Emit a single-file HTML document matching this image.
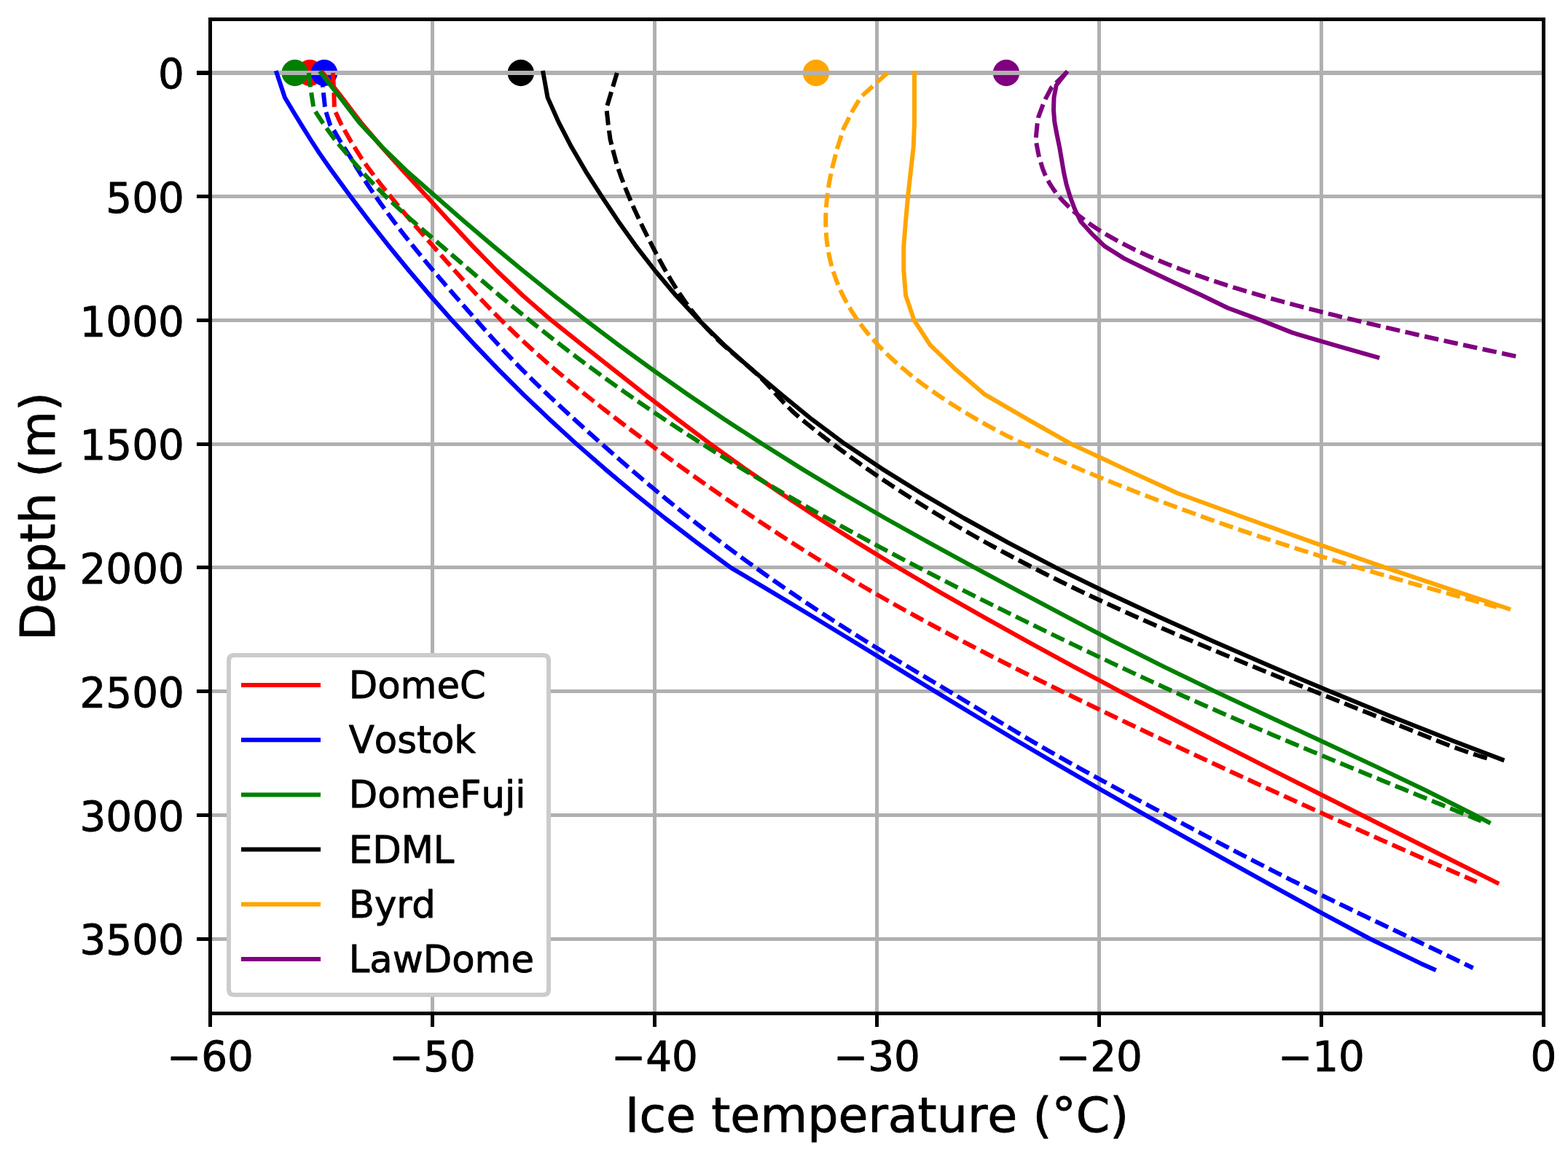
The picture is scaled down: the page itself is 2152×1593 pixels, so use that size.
<!DOCTYPE html>
<html lang="en"><head><meta charset="utf-8"><title>Ice temperature profiles</title>
<style>html,body{margin:0;padding:0;background:#fff}svg{display:block}text{fill:#000;font-kerning:none;stroke:#000;stroke-width:0.9px;stroke-linejoin:round}</style></head><body>
<svg width="2152" height="1593" viewBox="0 0 2152 1593" font-family="DejaVu Sans, Liberation Sans, sans-serif">
<rect width="2152" height="1593" fill="#fff"/>
<g>
<circle cx="425.2" cy="100" r="18.2" fill="#ff0000"/>
<circle cx="445.0" cy="100" r="18.2" fill="#0000ff"/>
<circle cx="404.7" cy="100" r="18.2" fill="#008000"/>
<circle cx="714.8" cy="100" r="18.2" fill="#000000"/>
<circle cx="1120.0" cy="100" r="18.2" fill="#ffa500"/>
<circle cx="1381.0" cy="100" r="18.2" fill="#800080"/>
</g>
<g stroke="#b0b0b0" stroke-width="5" fill="none">
<path d="M288.5,26.5 V1390.5"/>
<path d="M593.5,26.5 V1390.5"/>
<path d="M898.5,26.5 V1390.5"/>
<path d="M1203.5,26.5 V1390.5"/>
<path d="M1508.5,26.5 V1390.5"/>
<path d="M1813.5,26.5 V1390.5"/>
<path d="M2118.5,26.5 V1390.5"/>
<path d="M288.5,100.0 H2118.5" stroke-width="6"/>
<path d="M288.5,269.5 H2118.5" stroke-width="5"/>
<path d="M288.5,439.5 H2118.5" stroke-width="5"/>
<path d="M288.5,609.5 H2118.5" stroke-width="5"/>
<path d="M288.5,778.5 H2118.5" stroke-width="5"/>
<path d="M288.5,948.5 H2118.5" stroke-width="5"/>
<path d="M288.5,1118.5 H2118.5" stroke-width="5"/>
<path d="M288.5,1288.5 H2118.5" stroke-width="5"/>
</g>
<g fill="none" stroke-width="6.0" stroke-linejoin="round">
<path d="M443.0,100.0 L469.4,133.9 L495.2,167.9 L524.0,201.8 L554.5,235.8 L585.9,269.7 L617.0,303.7 L648.6,337.6 L681.8,371.5 L717.5,405.5 L756.7,439.4 L799.3,473.4 L842.4,507.3 L885.6,541.3 L929.6,575.2 L975.0,609.1 L1022.4,643.1 L1071.9,677.0 L1123.5,711.0 L1177.2,744.9 L1232.9,778.9 L1290.6,812.8 L1350.0,846.7 L1411.0,880.7 L1473.4,914.6 L1537.1,948.6 L1601.9,982.5 L1667.7,1016.5 L1734.1,1050.4 L1801.2,1084.3 L1868.7,1118.3 L1936.5,1152.2 L2004.4,1186.2 L2054.6,1211.3" stroke="#ff0000" stroke-linecap="square"/>
<path d="M457.0,100.0 L458.3,126.9 L458.9,146.7 L459.2,151.0 L468.3,170.5 L482.0,194.8 L496.3,217.5 L498.4,220.5 L500.5,223.5 L502.6,226.5 L504.8,229.5 L507.0,232.5 L509.2,235.5 L511.5,238.5 L513.7,241.5 L516.0,244.5 L518.3,247.5 L520.7,250.5 L523.0,253.5 L525.4,256.5 L527.8,259.5 L530.2,262.5 L532.6,265.5 L535.1,268.5 L537.5,271.5 L540.0,274.5 L542.5,277.5 L545.0,280.5 L547.5,283.5 L550.0,286.5 L552.6,289.5 L555.1,292.5 L557.7,295.5 L560.3,298.5 L562.8,301.5 L565.4,304.5 L568.0,307.5 L570.6,310.5 L573.2,313.5 L575.9,316.5 L578.5,319.5 L581.1,322.5 L583.7,325.5 L586.4,328.5 L589.0,331.5 L591.6,334.5 L594.3,337.5 L596.9,340.5 L599.5,343.5 L602.2,346.5 L604.8,349.5 L607.4,352.5 L610.1,355.5 L612.7,358.5 L615.4,361.5 L618.1,364.5 L620.7,367.5 L623.4,370.5 L626.1,373.5 L628.8,376.5 L631.5,379.5 L634.2,382.5 L636.9,385.5 L639.6,388.5 L642.4,391.5 L645.1,394.5 L647.9,397.5 L650.7,400.5 L653.5,403.5 L656.3,406.5 L659.1,409.5 L661.9,412.5 L664.8,415.5 L667.6,418.5 L670.5,421.5 L673.4,424.5 L676.4,427.5 L679.3,430.5 L682.3,433.5 L685.2,436.5 L688.2,439.5 L691.3,442.5 L694.3,445.5 L697.4,448.5 L700.5,451.5 L703.6,454.5 L706.7,457.5 L709.8,460.5 L713.0,463.5 L716.2,466.5 L719.5,469.5 L722.7,472.5 L726.0,475.5 L729.3,478.5 L732.6,481.5 L735.9,484.5 L739.3,487.5 L742.7,490.5 L746.1,493.5 L749.5,496.5 L753.0,499.5 L756.5,502.5 L760.0,505.5 L763.5,508.5 L767.0,511.5 L770.6,514.5 L774.2,517.5 L777.8,520.5 L781.4,523.5 L785.0,526.5 L788.7,529.5 L792.4,532.5 L796.1,535.5 L799.8,538.5 L803.5,541.5 L807.3,544.5 L811.0,547.5 L814.8,550.5 L818.6,553.5 L822.4,556.5 L826.2,559.5 L830.1,562.5 L833.9,565.5 L837.8,568.5 L841.7,571.5 L845.6,574.5 L849.5,577.5 L853.4,580.5 L857.4,583.5 L861.3,586.5 L865.3,589.5 L869.3,592.5 L873.3,595.5 L877.3,598.5 L881.3,601.5 L885.3,604.5 L889.3,607.5 L893.4,610.5 L897.4,613.5 L901.5,616.5 L905.6,619.5 L909.7,622.5 L913.8,625.5 L917.9,628.5 L922.0,631.5 L926.1,634.5 L930.3,637.5 L934.4,640.5 L938.6,643.5 L942.8,646.5 L946.9,649.5 L951.1,652.5 L955.4,655.5 L959.6,658.5 L963.8,661.5 L968.1,664.5 L972.3,667.5 L976.6,670.5 L980.9,673.5 L985.2,676.5 L989.5,679.5 L993.8,682.5 L998.2,685.5 L1002.5,688.5 L1006.9,691.5 L1011.3,694.5 L1015.7,697.5 L1020.1,700.5 L1024.6,703.5 L1029.0,706.5 L1033.5,709.5 L1038.0,712.5 L1042.4,715.5 L1047.0,718.5 L1051.5,721.5 L1056.0,724.5 L1060.6,727.5 L1065.2,730.5 L1069.7,733.5 L1074.4,736.5 L1079.0,739.5 L1083.6,742.5 L1088.3,745.5 L1093.0,748.5 L1097.7,751.5 L1102.4,754.5 L1107.1,757.5 L1111.9,760.5 L1116.7,763.5 L1121.5,766.5 L1126.3,769.5 L1131.1,772.5 L1136.0,775.5 L1140.9,778.5 L1145.8,781.5 L1150.8,784.5 L1155.7,787.5 L1160.7,790.5 L1165.7,793.5 L1170.8,796.5 L1175.8,799.5 L1180.9,802.5 L1186.0,805.5 L1191.2,808.5 L1196.3,811.5 L1201.5,814.5 L1206.8,817.5 L1212.0,820.5 L1217.3,823.5 L1222.6,826.5 L1227.9,829.5 L1233.3,832.5 L1238.7,835.5 L1244.1,838.5 L1249.5,841.5 L1255.0,844.5 L1260.5,847.5 L1266.0,850.5 L1271.5,853.5 L1277.1,856.5 L1282.7,859.5 L1288.3,862.5 L1293.9,865.5 L1299.6,868.5 L1305.2,871.5 L1310.9,874.5 L1316.7,877.5 L1322.4,880.5 L1328.1,883.5 L1333.9,886.5 L1339.7,889.5 L1345.5,892.5 L1351.4,895.5 L1357.2,898.5 L1363.1,901.5 L1369.0,904.5 L1374.9,907.5 L1380.8,910.5 L1386.8,913.5 L1392.7,916.5 L1398.7,919.5 L1404.7,922.5 L1410.7,925.5 L1416.7,928.5 L1422.7,931.5 L1428.8,934.5 L1434.9,937.5 L1440.9,940.5 L1447.0,943.5 L1453.1,946.5 L1459.2,949.5 L1465.4,952.5 L1471.5,955.5 L1477.7,958.5 L1483.8,961.5 L1490.0,964.5 L1496.2,967.5 L1502.4,970.5 L1508.6,973.5 L1514.8,976.5 L1521.0,979.5 L1527.3,982.5 L1533.5,985.5 L1539.8,988.5 L1546.1,991.5 L1552.4,994.5 L1558.7,997.5 L1565.0,1000.5 L1571.3,1003.5 L1577.6,1006.5 L1583.9,1009.5 L1590.3,1012.5 L1596.6,1015.5 L1603.0,1018.5 L1609.4,1021.5 L1615.8,1024.5 L1622.2,1027.5 L1628.6,1030.5 L1635.0,1033.5 L1641.4,1036.5 L1647.9,1039.5 L1654.3,1042.5 L1660.8,1045.5 L1667.2,1048.5 L1673.7,1051.5 L1680.2,1054.5 L1686.6,1057.5 L1693.1,1060.5 L1699.6,1063.5 L1706.2,1066.5 L1712.7,1069.5 L1719.2,1072.5 L1725.7,1075.5 L1732.3,1078.5 L1738.8,1081.5 L1745.4,1084.5 L1752.0,1087.5 L1758.5,1090.5 L1765.1,1093.5 L1771.7,1096.5 L1778.3,1099.5 L1784.9,1102.5 L1791.5,1105.5 L1798.1,1108.5 L1804.7,1111.5 L1811.4,1114.5 L1818.0,1117.5 L1824.6,1120.5 L1831.3,1123.5 L1837.9,1126.5 L1844.6,1129.5 L1851.3,1132.5 L1858.0,1135.5 L1864.6,1138.5 L1871.3,1141.5 L1878.0,1144.5 L1884.7,1147.5 L1891.5,1150.5 L1898.2,1153.5 L1904.9,1156.5 L1911.7,1159.5 L1918.4,1162.5 L1925.2,1165.5 L1931.9,1168.5 L1938.7,1171.5 L1945.5,1174.5 L1952.3,1177.5 L1959.1,1180.5 L1965.9,1183.5 L1972.8,1186.5 L1979.6,1189.5 L1986.5,1192.5 L1993.3,1195.5 L2000.2,1198.5 L2007.1,1201.5 L2014.0,1204.5 L2020.9,1207.5 L2026.7,1210.0" stroke="#ff0000" stroke-dasharray="19.6 7.56"/>
<path d="M379.7,100.0 L391.0,134.0 L403.2,154.3 L414.6,172.9 L426.2,191.5 L438.3,210.1 L450.6,227.8 L456.3,235.8 L481.2,269.7 L507.0,303.7 L533.7,337.6 L561.4,371.5 L590.3,405.5 L620.4,439.4 L651.7,473.4 L684.3,507.3 L718.4,541.3 L754.0,575.2 L791.1,609.1 L829.9,643.1 L870.4,677.0 L912.7,711.0 L956.9,744.9 L1003.0,778.9 L1060.3,812.8 L1116.6,846.7 L1172.4,880.7 L1227.8,914.6 L1283.3,948.6 L1339.3,982.5 L1395.9,1016.5 L1453.6,1050.4 L1512.4,1084.3 L1572.1,1118.3 L1632.4,1152.2 L1693.3,1186.2 L1754.7,1220.1 L1816.5,1254.1 L1879.9,1288.0 L1949.9,1321.9 L1968.1,1330.0" stroke="#0000ff" stroke-linecap="square"/>
<path d="M442.0,100.0 L443.0,119.4 L446.0,146.5 L447.3,153.2 L452.9,171.0 L459.5,181.0 L466.5,193.0 L473.0,203.5 L479.7,213.8 L481.5,216.8 L483.3,219.8 L485.1,222.8 L486.9,225.8 L488.7,228.8 L490.6,231.8 L492.5,234.8 L494.4,237.8 L496.3,240.8 L498.2,243.8 L500.2,246.8 L502.2,249.8 L504.2,252.8 L506.2,255.8 L508.2,258.8 L510.2,261.8 L512.3,264.8 L514.4,267.8 L516.5,270.8 L518.6,273.8 L520.7,276.8 L522.8,279.8 L525.0,282.8 L527.2,285.8 L529.4,288.8 L531.6,291.8 L533.8,294.8 L536.0,297.8 L538.3,300.8 L540.5,303.8 L542.8,306.8 L545.1,309.8 L547.4,312.8 L549.7,315.8 L552.0,318.8 L554.4,321.8 L556.7,324.8 L559.1,327.8 L561.5,330.8 L563.9,333.8 L566.3,336.8 L568.7,339.8 L571.1,342.8 L573.6,345.8 L576.0,348.8 L578.5,351.8 L580.9,354.8 L583.4,357.8 L585.9,360.8 L588.4,363.8 L590.9,366.8 L593.4,369.8 L596.0,372.8 L598.5,375.8 L601.1,378.8 L603.6,381.8 L606.2,384.8 L608.8,387.8 L611.3,390.8 L613.9,393.8 L616.5,396.8 L619.1,399.8 L621.7,402.8 L624.3,405.8 L626.9,408.8 L629.6,411.8 L632.2,414.8 L634.8,417.8 L637.5,420.8 L640.1,423.8 L642.7,426.8 L645.4,429.8 L648.0,432.8 L650.7,435.8 L653.3,438.8 L656.0,441.8 L658.6,444.8 L661.3,447.8 L663.9,450.8 L666.6,453.8 L669.3,456.8 L672.0,459.8 L674.7,462.8 L677.4,465.8 L680.1,468.8 L682.9,471.8 L685.6,474.8 L688.4,477.8 L691.2,480.8 L694.1,483.8 L696.9,486.8 L699.8,489.8 L702.6,492.8 L705.5,495.8 L708.5,498.8 L711.4,501.8 L714.3,504.8 L717.3,507.8 L720.3,510.8 L723.3,513.8 L726.3,516.8 L729.4,519.8 L732.4,522.8 L735.5,525.8 L738.6,528.8 L741.7,531.8 L744.8,534.8 L747.9,537.8 L751.1,540.8 L754.2,543.8 L757.4,546.8 L760.6,549.8 L763.8,552.8 L767.0,555.8 L770.2,558.8 L773.4,561.8 L776.7,564.8 L779.9,567.8 L783.2,570.8 L786.5,573.8 L789.8,576.8 L793.1,579.8 L796.4,582.8 L799.7,585.8 L803.0,588.8 L806.4,591.8 L809.7,594.8 L813.1,597.8 L816.4,600.8 L819.8,603.8 L823.2,606.8 L826.6,609.8 L830.0,612.8 L833.4,615.8 L836.8,618.8 L840.2,621.8 L843.6,624.8 L847.0,627.8 L850.5,630.8 L853.9,633.8 L857.4,636.8 L860.9,639.8 L864.4,642.8 L867.8,645.8 L871.4,648.8 L874.9,651.8 L878.4,654.8 L881.9,657.8 L885.5,660.8 L889.0,663.8 L892.6,666.8 L896.2,669.8 L899.8,672.8 L903.4,675.8 L907.1,678.8 L910.7,681.8 L914.4,684.8 L918.1,687.8 L921.7,690.8 L925.4,693.8 L929.2,696.8 L932.9,699.8 L936.6,702.8 L940.4,705.8 L944.2,708.8 L948.0,711.8 L951.8,714.8 L955.6,717.8 L959.4,720.8 L963.3,723.8 L967.2,726.8 L971.1,729.8 L975.0,732.8 L978.9,735.8 L982.8,738.8 L986.8,741.8 L990.7,744.8 L994.7,747.8 L998.7,750.8 L1002.8,753.8 L1006.8,756.8 L1010.8,759.8 L1014.9,762.8 L1019.0,765.8 L1023.1,768.8 L1027.2,771.8 L1031.4,774.8 L1035.5,777.8 L1039.7,780.8 L1043.9,783.8 L1048.1,786.8 L1052.4,789.8 L1056.6,792.8 L1060.9,795.8 L1065.2,798.8 L1069.5,801.8 L1073.8,804.8 L1078.2,807.8 L1082.5,810.8 L1086.9,813.8 L1091.3,816.8 L1095.7,819.8 L1100.2,822.8 L1104.6,825.8 L1109.1,828.8 L1113.6,831.8 L1118.1,834.8 L1122.7,837.8 L1127.2,840.8 L1131.8,843.8 L1136.4,846.8 L1141.0,849.8 L1145.7,852.8 L1150.3,855.8 L1155.0,858.8 L1159.7,861.8 L1164.4,864.8 L1169.2,867.8 L1173.9,870.8 L1178.7,873.8 L1183.5,876.8 L1188.3,879.8 L1193.2,882.8 L1198.0,885.8 L1202.9,888.8 L1207.8,891.8 L1212.8,894.8 L1217.7,897.8 L1222.7,900.8 L1227.7,903.8 L1232.6,906.8 L1237.7,909.8 L1242.7,912.8 L1247.7,915.8 L1252.7,918.8 L1257.7,921.8 L1262.8,924.8 L1267.8,927.8 L1272.9,930.8 L1277.9,933.8 L1282.9,936.8 L1288.0,939.8 L1293.0,942.8 L1298.0,945.8 L1303.0,948.8 L1308.0,951.8 L1313.0,954.8 L1317.9,957.8 L1322.9,960.8 L1327.9,963.8 L1332.8,966.8 L1337.8,969.8 L1342.7,972.8 L1347.7,975.8 L1352.6,978.8 L1357.6,981.8 L1362.6,984.8 L1367.5,987.8 L1372.5,990.8 L1377.5,993.8 L1382.5,996.8 L1387.5,999.8 L1392.5,1002.8 L1397.6,1005.8 L1402.6,1008.8 L1407.7,1011.8 L1412.8,1014.8 L1417.9,1017.8 L1423.1,1020.8 L1428.2,1023.8 L1433.4,1026.8 L1438.6,1029.8 L1443.9,1032.8 L1449.2,1035.8 L1454.5,1038.8 L1459.8,1041.8 L1465.1,1044.8 L1470.5,1047.8 L1475.9,1050.8 L1481.3,1053.8 L1486.7,1056.8 L1492.2,1059.8 L1497.7,1062.8 L1503.2,1065.8 L1508.7,1068.8 L1514.2,1071.8 L1519.7,1074.8 L1525.3,1077.8 L1530.8,1080.8 L1536.4,1083.8 L1542.0,1086.8 L1547.6,1089.8 L1553.2,1092.8 L1558.8,1095.8 L1564.4,1098.8 L1570.1,1101.8 L1575.7,1104.8 L1581.3,1107.8 L1587.0,1110.8 L1592.6,1113.8 L1598.3,1116.8 L1603.9,1119.8 L1609.6,1122.8 L1615.2,1125.8 L1620.9,1128.8 L1626.5,1131.8 L1632.2,1134.8 L1637.9,1137.8 L1643.5,1140.8 L1649.2,1143.8 L1654.9,1146.8 L1660.6,1149.8 L1666.3,1152.8 L1672.0,1155.8 L1677.7,1158.8 L1683.4,1161.8 L1689.1,1164.8 L1694.9,1167.8 L1700.6,1170.8 L1706.4,1173.8 L1712.2,1176.8 L1718.0,1179.8 L1723.8,1182.8 L1729.6,1185.8 L1735.4,1188.8 L1741.2,1191.8 L1747.1,1194.8 L1753.0,1197.8 L1758.9,1200.8 L1764.8,1203.8 L1770.7,1206.8 L1776.7,1209.8 L1782.7,1212.8 L1788.6,1215.8 L1794.7,1218.8 L1800.7,1221.8 L1806.7,1224.8 L1812.8,1227.8 L1818.9,1230.8 L1825.1,1233.8 L1831.2,1236.8 L1837.4,1239.8 L1843.6,1242.8 L1849.8,1245.8 L1856.0,1248.8 L1862.2,1251.8 L1868.4,1254.8 L1874.7,1257.8 L1881.0,1260.8 L1887.2,1263.8 L1893.5,1266.8 L1899.8,1269.8 L1906.1,1272.8 L1912.4,1275.8 L1918.7,1278.8 L1925.0,1281.8 L1931.3,1284.8 L1937.6,1287.8 L1943.9,1290.8 L1950.2,1293.8 L1956.5,1296.8 L1962.7,1299.8 L1969.0,1302.8 L1975.3,1305.8 L1981.5,1308.8 L1987.7,1311.8 L1994.0,1314.8 L2000.2,1317.8 L2006.4,1320.8 L2012.5,1323.8 L2018.7,1326.8 L2021.7,1328.3" stroke="#0000ff" stroke-dasharray="19.6 7.56"/>
<path d="M440.5,100.0 L466.9,133.9 L492.9,167.9 L524.5,201.8 L559.5,235.8 L598.2,269.7 L637.1,303.7 L677.0,337.6 L718.0,371.5 L760.3,405.5 L803.9,439.4 L848.9,473.4 L895.6,507.3 L943.9,541.3 L994.0,575.2 L1046.1,609.1 L1100.2,643.1 L1156.4,677.0 L1214.9,711.0 L1275.6,744.9 L1337.9,778.9 L1401.2,812.8 L1464.8,846.7 L1529.4,880.7 L1597.0,914.6 L1667.4,948.6 L1739.7,982.5 L1812.9,1016.5 L1885.5,1050.4 L1956.3,1084.3 L2024.0,1118.3 L2043.0,1128.2" stroke="#008000" stroke-linecap="square"/>
<path d="M423.8,100.0 L426.0,119.6 L430.1,145.9 L430.8,150.0 L443.5,169.4 L459.4,191.5 L477.0,212.4 L479.5,215.4 L482.1,218.4 L484.6,221.4 L487.2,224.4 L489.8,227.4 L492.4,230.4 L495.1,233.4 L497.8,236.4 L500.5,239.4 L503.2,242.4 L506.0,245.4 L508.7,248.4 L511.6,251.4 L514.4,254.4 L517.3,257.4 L520.3,260.4 L523.3,263.4 L526.3,266.4 L529.3,269.4 L532.4,272.4 L535.6,275.4 L538.8,278.4 L542.0,281.4 L545.3,284.4 L548.6,287.4 L551.9,290.4 L555.2,293.4 L558.6,296.4 L562.0,299.4 L565.4,302.4 L568.9,305.4 L572.3,308.4 L575.8,311.4 L579.3,314.4 L582.7,317.4 L586.2,320.4 L589.7,323.4 L593.2,326.4 L596.7,329.4 L600.2,332.4 L603.6,335.4 L607.1,338.4 L610.6,341.4 L614.1,344.4 L617.5,347.4 L621.0,350.4 L624.5,353.4 L628.0,356.4 L631.5,359.4 L635.0,362.4 L638.4,365.4 L641.9,368.4 L645.4,371.4 L648.9,374.4 L652.4,377.4 L655.9,380.4 L659.5,383.4 L663.0,386.4 L666.5,389.4 L670.0,392.4 L673.6,395.4 L677.1,398.4 L680.7,401.4 L684.3,404.4 L687.8,407.4 L691.4,410.4 L695.0,413.4 L698.6,416.4 L702.2,419.4 L705.8,422.4 L709.5,425.4 L713.1,428.4 L716.8,431.4 L720.4,434.4 L724.1,437.4 L727.8,440.4 L731.5,443.4 L735.3,446.4 L739.0,449.4 L742.8,452.4 L746.5,455.4 L750.3,458.4 L754.1,461.4 L757.9,464.4 L761.8,467.4 L765.6,470.4 L769.5,473.4 L773.4,476.4 L777.3,479.4 L781.2,482.4 L785.2,485.4 L789.1,488.4 L793.1,491.4 L797.1,494.4 L801.1,497.4 L805.2,500.4 L809.2,503.4 L813.3,506.4 L817.4,509.4 L821.5,512.4 L825.6,515.4 L829.8,518.4 L833.9,521.4 L838.1,524.4 L842.3,527.4 L846.5,530.4 L850.8,533.4 L855.0,536.4 L859.3,539.4 L863.6,542.4 L867.9,545.4 L872.2,548.4 L876.6,551.4 L881.0,554.4 L885.3,557.4 L889.8,560.4 L894.2,563.4 L898.6,566.4 L903.1,569.4 L907.6,572.4 L912.0,575.4 L916.6,578.4 L921.1,581.4 L925.7,584.4 L930.2,587.4 L934.8,590.4 L939.4,593.4 L944.0,596.4 L948.7,599.4 L953.4,602.4 L958.0,605.4 L962.7,608.4 L967.5,611.4 L972.2,614.4 L977.0,617.4 L981.7,620.4 L986.5,623.4 L991.4,626.4 L996.2,629.4 L1001.0,632.4 L1005.9,635.4 L1010.8,638.4 L1015.7,641.4 L1020.6,644.4 L1025.6,647.4 L1030.6,650.4 L1035.5,653.4 L1040.6,656.4 L1045.6,659.4 L1050.6,662.4 L1055.7,665.4 L1060.8,668.4 L1065.9,671.4 L1071.0,674.4 L1076.1,677.4 L1081.3,680.4 L1086.5,683.4 L1091.7,686.4 L1096.9,689.4 L1102.1,692.4 L1107.4,695.4 L1112.6,698.4 L1117.9,701.4 L1123.2,704.4 L1128.6,707.4 L1133.9,710.4 L1139.3,713.4 L1144.7,716.4 L1150.1,719.4 L1155.5,722.4 L1161.0,725.4 L1166.4,728.4 L1171.9,731.4 L1177.4,734.4 L1183.0,737.4 L1188.5,740.4 L1194.1,743.4 L1199.7,746.4 L1205.2,749.4 L1210.9,752.4 L1216.5,755.4 L1222.2,758.4 L1227.8,761.4 L1233.5,764.4 L1239.2,767.4 L1244.9,770.4 L1250.7,773.4 L1256.4,776.4 L1262.2,779.4 L1268.0,782.4 L1273.8,785.4 L1279.6,788.4 L1285.4,791.4 L1291.3,794.4 L1297.1,797.4 L1303.0,800.4 L1308.9,803.4 L1314.8,806.4 L1320.8,809.4 L1326.7,812.4 L1332.6,815.4 L1338.6,818.4 L1344.6,821.4 L1350.6,824.4 L1356.6,827.4 L1362.6,830.4 L1368.6,833.4 L1374.7,836.4 L1380.7,839.4 L1386.8,842.4 L1392.9,845.4 L1399.0,848.4 L1405.1,851.4 L1411.2,854.4 L1417.3,857.4 L1423.5,860.4 L1429.6,863.4 L1435.8,866.4 L1441.9,869.4 L1448.1,872.4 L1454.3,875.4 L1460.5,878.4 L1466.7,881.4 L1472.9,884.4 L1479.2,887.4 L1485.4,890.4 L1491.7,893.4 L1497.9,896.4 L1504.2,899.4 L1510.5,902.4 L1516.9,905.4 L1523.2,908.4 L1529.5,911.4 L1535.9,914.4 L1542.3,917.4 L1548.7,920.4 L1555.1,923.4 L1561.6,926.4 L1568.1,929.4 L1574.6,932.4 L1581.1,935.4 L1587.6,938.4 L1594.2,941.4 L1600.8,944.4 L1607.4,947.4 L1614.0,950.4 L1620.7,953.4 L1627.4,956.4 L1634.1,959.4 L1640.9,962.4 L1647.6,965.4 L1654.4,968.4 L1661.3,971.4 L1668.1,974.4 L1675.0,977.4 L1681.9,980.4 L1688.8,983.4 L1695.7,986.4 L1702.6,989.4 L1709.6,992.4 L1716.6,995.4 L1723.6,998.4 L1730.6,1001.4 L1737.7,1004.4 L1744.7,1007.4 L1751.8,1010.4 L1758.9,1013.4 L1766.0,1016.4 L1773.1,1019.4 L1780.3,1022.4 L1787.4,1025.4 L1794.6,1028.4 L1801.8,1031.4 L1809.0,1034.4 L1816.2,1037.4 L1823.4,1040.4 L1830.6,1043.4 L1837.8,1046.4 L1845.1,1049.4 L1852.3,1052.4 L1859.6,1055.4 L1866.9,1058.4 L1874.1,1061.4 L1881.4,1064.4 L1888.7,1067.4 L1896.0,1070.4 L1903.3,1073.4 L1910.6,1076.4 L1917.9,1079.4 L1925.3,1082.4 L1932.6,1085.4 L1939.9,1088.4 L1947.2,1091.4 L1954.6,1094.4 L1961.9,1097.4 L1969.2,1100.4 L1976.6,1103.4 L1983.9,1106.4 L1991.2,1109.4 L1998.5,1112.4 L2005.9,1115.4 L2013.2,1118.4 L2020.5,1121.4 L2027.8,1124.4 L2032.9,1126.5" stroke="#008000" stroke-dasharray="19.6 7.56"/>
<path d="M745.5,100.0 L751.6,133.9 L766.8,167.9 L784.4,201.8 L804.3,235.8 L825.9,269.7 L848.6,303.7 L872.8,337.6 L899.1,371.5 L927.7,405.5 L959.3,439.4 L994.0,473.4 L1032.2,507.3 L1072.5,541.3 L1114.0,575.2 L1159.5,609.1 L1210.3,643.1 L1264.9,677.0 L1322.9,711.0 L1384.2,744.9 L1449.2,778.9 L1518.4,812.8 L1591.3,846.7 L1666.9,880.7 L1744.7,914.6 L1825.0,948.6 L1908.0,982.5 L1994.0,1016.5 L2061.7,1042.3" stroke="#000000" stroke-linecap="square"/>
<path d="M846.8,100.0 L832.3,148.5 L834.8,171.1 L837.5,191.0 L841.0,205.0 L846.1,224.0 L847.1,227.0 L848.1,230.0 L849.1,233.0 L850.1,236.0 L851.2,239.0 L852.2,242.0 L853.3,245.0 L854.5,248.0 L855.6,251.0 L856.8,254.0 L857.9,257.0 L859.1,260.0 L860.3,263.0 L861.6,266.0 L862.8,269.0 L864.1,272.0 L865.4,275.0 L866.7,278.0 L868.0,281.0 L869.3,284.0 L870.6,287.0 L872.0,290.0 L873.4,293.0 L874.8,296.0 L876.2,299.0 L877.6,302.0 L879.0,305.0 L880.4,308.0 L881.9,311.0 L883.3,314.0 L884.8,317.0 L886.3,320.0 L887.8,323.0 L889.3,326.0 L890.8,329.0 L892.4,332.0 L893.9,335.0 L895.4,338.0 L897.0,341.0 L898.6,344.0 L900.1,347.0 L901.7,350.0 L903.3,353.0 L904.9,356.0 L906.5,359.0 L908.2,362.0 L909.8,365.0 L911.5,368.0 L913.2,371.0 L914.9,374.0 L916.6,377.0 L918.4,380.0 L920.1,383.0 L921.9,386.0 L923.8,389.0 L925.6,392.0 L927.5,395.0 L929.5,398.0 L931.4,401.0 L933.4,404.0 L935.5,407.0 L937.5,410.0 L939.6,413.0 L941.8,416.0 L944.0,419.0 L946.2,422.0 L948.5,425.0 L950.9,428.0 L953.2,431.0 L955.7,434.0 L958.2,437.0 L960.7,440.0 L963.3,443.0 L966.0,446.0 L968.7,449.0 L971.4,452.0 L974.3,455.0 L977.2,458.0 L980.1,461.0 L983.1,464.0 L986.2,467.0 L989.4,470.0 L992.6,473.0 L995.9,476.0 L999.3,479.0 L1002.7,482.0 L1006.2,485.0 L1009.7,488.0 L1013.2,491.0 L1016.8,494.0 L1020.3,497.0 L1023.9,500.0 L1027.3,503.0 L1030.8,506.0 L1034.1,509.0 L1037.4,512.0 L1040.6,515.0 L1043.7,518.0 L1046.7,521.0 L1049.6,524.0 L1052.4,527.0 L1055.2,530.0 L1058.0,533.0 L1060.7,536.0 L1063.4,539.0 L1066.1,542.0 L1068.8,545.0 L1071.6,548.0 L1074.4,551.0 L1077.2,554.0 L1080.2,557.0 L1083.2,560.0 L1086.2,563.0 L1089.4,566.0 L1092.8,569.0 L1096.2,572.0 L1099.7,575.0 L1103.4,578.0 L1107.1,581.0 L1110.8,584.0 L1114.6,587.0 L1118.3,590.0 L1122.2,593.0 L1126.0,596.0 L1129.9,599.0 L1133.7,602.0 L1137.7,605.0 L1141.6,608.0 L1145.6,611.0 L1149.6,614.0 L1153.6,617.0 L1157.7,620.0 L1161.7,623.0 L1165.9,626.0 L1170.0,629.0 L1174.2,632.0 L1178.4,635.0 L1182.6,638.0 L1186.9,641.0 L1191.1,644.0 L1195.5,647.0 L1199.8,650.0 L1204.2,653.0 L1208.6,656.0 L1213.0,659.0 L1217.5,662.0 L1222.0,665.0 L1226.5,668.0 L1231.1,671.0 L1235.7,674.0 L1240.3,677.0 L1245.0,680.0 L1249.7,683.0 L1254.4,686.0 L1259.2,689.0 L1264.0,692.0 L1268.8,695.0 L1273.6,698.0 L1278.5,701.0 L1283.4,704.0 L1288.4,707.0 L1293.4,710.0 L1298.4,713.0 L1303.5,716.0 L1308.6,719.0 L1313.7,722.0 L1318.9,725.0 L1324.1,728.0 L1329.3,731.0 L1334.6,734.0 L1339.9,737.0 L1345.2,740.0 L1350.6,743.0 L1356.0,746.0 L1361.5,749.0 L1367.0,752.0 L1372.5,755.0 L1378.1,758.0 L1383.7,761.0 L1389.3,764.0 L1395.0,767.0 L1400.7,770.0 L1406.4,773.0 L1412.2,776.0 L1418.0,779.0 L1423.9,782.0 L1429.8,785.0 L1435.8,788.0 L1441.7,791.0 L1447.8,794.0 L1453.8,797.0 L1459.9,800.0 L1466.1,803.0 L1472.3,806.0 L1478.5,809.0 L1484.8,812.0 L1491.1,815.0 L1497.4,818.0 L1503.8,821.0 L1510.2,824.0 L1516.7,827.0 L1523.2,830.0 L1529.7,833.0 L1536.3,836.0 L1543.0,839.0 L1549.6,842.0 L1556.3,845.0 L1563.1,848.0 L1569.8,851.0 L1576.6,854.0 L1583.5,857.0 L1590.3,860.0 L1597.2,863.0 L1604.2,866.0 L1611.1,869.0 L1618.1,872.0 L1625.1,875.0 L1632.2,878.0 L1639.3,881.0 L1646.4,884.0 L1653.5,887.0 L1660.6,890.0 L1667.8,893.0 L1675.0,896.0 L1682.2,899.0 L1689.4,902.0 L1696.7,905.0 L1704.0,908.0 L1711.2,911.0 L1718.6,914.0 L1725.9,917.0 L1733.2,920.0 L1740.6,923.0 L1747.9,926.0 L1755.3,929.0 L1762.7,932.0 L1770.1,935.0 L1777.5,938.0 L1785.0,941.0 L1792.4,944.0 L1799.9,947.0 L1807.3,950.0 L1814.8,953.0 L1822.2,956.0 L1829.7,959.0 L1837.2,962.0 L1844.7,965.0 L1852.1,968.0 L1859.6,971.0 L1867.1,974.0 L1874.6,977.0 L1882.1,980.0 L1889.6,983.0 L1897.0,986.0 L1904.5,989.0 L1912.0,992.0 L1919.4,995.0 L1926.9,998.0 L1934.4,1001.0 L1941.8,1004.0 L1949.2,1007.0 L1956.7,1010.0 L1964.1,1013.0 L1971.6,1016.0 L1979.2,1019.0 L1986.9,1022.0 L1994.8,1025.0 L2003.0,1028.0 L2011.5,1031.0 L2020.3,1034.0 L2029.6,1037.0 L2039.3,1040.0 L2041.0,1040.5" stroke="#000000" stroke-dasharray="19.6 7.56"/>
<path d="M1255.0,100.0 L1255.0,133.9 L1255.0,167.9 L1253.7,201.8 L1249.8,235.8 L1246.1,269.7 L1243.0,303.7 L1240.3,337.6 L1240.3,371.5 L1243.1,405.5 L1254.6,439.4 L1276.6,473.4 L1312.0,507.3 L1351.5,541.2 L1410.0,575.2 L1470.0,609.1 L1543.0,643.1 L1616.7,677.0 L1710.0,711.0 L1804.0,744.9 L1901.5,778.9 L2003.0,812.8 L2070.4,835.3" stroke="#ffa500" stroke-linecap="square"/>
<path d="M1218.0,100.0 L1181.5,133.0 L1169.7,152.5 L1163.0,166.0 L1157.8,176.2 L1149.4,202.7 L1142.8,227.8 L1142.1,230.8 L1141.5,233.8 L1140.8,236.8 L1140.2,239.8 L1139.6,242.8 L1139.0,245.8 L1138.4,248.8 L1137.9,251.8 L1137.4,254.8 L1136.9,257.8 L1136.5,260.8 L1136.1,263.8 L1135.7,266.8 L1135.3,269.8 L1135.0,272.8 L1134.6,275.8 L1134.4,278.8 L1134.1,281.8 L1133.9,284.8 L1133.7,287.8 L1133.6,290.8 L1133.4,293.8 L1133.3,296.8 L1133.3,299.8 L1133.3,302.8 L1133.3,305.8 L1133.3,308.8 L1133.4,311.8 L1133.5,314.8 L1133.7,317.8 L1133.9,320.8 L1134.1,323.8 L1134.4,326.8 L1134.7,329.8 L1135.1,332.8 L1135.4,335.8 L1135.9,338.8 L1136.3,341.8 L1136.9,344.8 L1137.4,347.8 L1138.0,350.8 L1138.6,353.8 L1139.3,356.8 L1140.1,359.8 L1140.8,362.8 L1141.6,365.8 L1142.5,368.8 L1143.4,371.8 L1144.4,374.8 L1145.4,377.8 L1146.4,380.8 L1147.5,383.8 L1148.7,386.8 L1149.9,389.8 L1151.1,392.8 L1152.4,395.8 L1153.7,398.8 L1155.1,401.8 L1156.6,404.8 L1158.1,407.8 L1159.7,410.8 L1161.3,413.8 L1162.9,416.8 L1164.6,419.8 L1166.4,422.8 L1168.2,425.8 L1170.1,428.8 L1172.1,431.8 L1174.1,434.8 L1176.1,437.8 L1178.2,440.8 L1180.4,443.8 L1182.7,446.8 L1184.9,449.8 L1187.3,452.8 L1189.7,455.8 L1192.2,458.8 L1194.7,461.8 L1197.3,464.8 L1200.0,467.8 L1202.7,470.8 L1205.5,473.8 L1208.4,476.8 L1211.3,479.8 L1214.3,482.8 L1217.3,485.8 L1220.4,488.8 L1223.6,491.8 L1226.9,494.8 L1230.2,497.8 L1233.6,500.8 L1237.0,503.8 L1240.6,506.8 L1244.2,509.8 L1247.8,512.8 L1251.6,515.8 L1255.4,518.8 L1259.3,521.8 L1263.2,524.8 L1267.3,527.8 L1271.4,530.8 L1275.5,533.8 L1279.8,536.8 L1284.1,539.8 L1288.4,542.8 L1292.9,545.8 L1297.4,548.8 L1302.0,551.8 L1306.6,554.8 L1311.4,557.8 L1316.2,560.8 L1321.1,563.8 L1326.0,566.8 L1331.0,569.8 L1336.2,572.8 L1341.3,575.8 L1346.6,578.8 L1352.0,581.8 L1357.4,584.8 L1362.9,587.8 L1368.5,590.8 L1374.2,593.8 L1380.0,596.8 L1385.9,599.8 L1391.8,602.8 L1397.9,605.8 L1404.1,608.8 L1410.3,611.8 L1416.7,614.8 L1423.1,617.8 L1429.6,620.8 L1436.2,623.8 L1442.9,626.8 L1449.7,629.8 L1456.6,632.8 L1463.5,635.8 L1470.5,638.8 L1477.5,641.8 L1484.6,644.8 L1491.8,647.8 L1499.1,650.8 L1506.4,653.8 L1513.7,656.8 L1521.1,659.8 L1528.6,662.8 L1536.1,665.8 L1543.6,668.8 L1551.2,671.8 L1558.9,674.8 L1566.6,677.8 L1574.4,680.8 L1582.2,683.8 L1590.1,686.8 L1598.1,689.8 L1606.1,692.8 L1614.2,695.8 L1622.3,698.8 L1630.5,701.8 L1638.8,704.8 L1647.1,707.8 L1655.5,710.8 L1663.9,713.8 L1672.5,716.8 L1681.0,719.8 L1689.7,722.8 L1698.4,725.8 L1707.2,728.8 L1716.0,731.8 L1724.9,734.8 L1733.9,737.8 L1743.0,740.8 L1752.1,743.8 L1761.3,746.8 L1770.6,749.8 L1779.9,752.8 L1789.4,755.8 L1798.9,758.8 L1808.4,761.8 L1818.1,764.8 L1827.8,767.8 L1837.6,770.8 L1847.5,773.8 L1857.4,776.8 L1867.5,779.8 L1877.6,782.8 L1887.8,785.8 L1898.0,788.8 L1908.3,791.8 L1918.7,794.8 L1929.2,797.8 L1939.7,800.8 L1950.2,803.8 L1960.8,806.8 L1971.5,809.8 L1982.2,812.8 L1992.9,815.8 L2003.7,818.8 L2014.5,821.8 L2025.3,824.8 L2036.1,827.8 L2047.0,830.8 L2054.2,832.8" stroke="#ffa500" stroke-dasharray="19.6 7.56"/>
<path d="M1463.2,100.0 L1449.7,117.0 L1446.5,133.9 L1446.0,150.9 L1447.4,167.9 L1450.6,184.9 L1454.1,201.8 L1457.0,218.8 L1459.9,235.8 L1463.5,252.7 L1468.6,269.7 L1475.0,286.7 L1483.1,303.7 L1498.3,320.6 L1515.8,337.6 L1542.8,354.6 L1577.4,371.5 L1613.2,388.5 L1650.0,405.5 L1684.9,422.5 L1730.6,439.4 L1773.4,456.4 L1831.0,473.4 L1890.4,490.3" stroke="#800080" stroke-linecap="square"/>
<path d="M1463.2,100.0 L1443.2,120.0 L1434.8,135.8 L1431.6,143.2 L1425.1,160.9 L1423.7,169.2 L1421.8,188.7 L1422.3,196.2 L1426.0,215.2 L1428.2,222.2 L1429.1,225.2 L1430.0,228.2 L1431.0,231.2 L1432.1,234.2 L1433.3,237.2 L1434.6,240.2 L1436.0,243.2 L1437.5,246.2 L1439.2,249.2 L1440.9,252.2 L1442.8,255.2 L1444.8,258.2 L1446.9,261.2 L1449.1,264.2 L1451.5,267.2 L1454.0,270.2 L1456.6,273.2 L1459.3,276.2 L1462.2,279.2 L1465.2,282.2 L1468.3,285.2 L1471.6,288.2 L1475.0,291.2 L1478.6,294.2 L1482.3,297.2 L1486.2,300.2 L1490.2,303.2 L1494.3,306.2 L1498.6,309.2 L1503.1,312.2 L1507.7,315.2 L1512.5,318.2 L1517.4,321.2 L1522.5,324.2 L1527.8,327.2 L1533.2,330.2 L1538.8,333.2 L1544.6,336.2 L1550.5,339.2 L1556.6,342.2 L1562.9,345.2 L1569.4,348.2 L1576.0,351.2 L1582.9,354.2 L1589.9,357.2 L1597.1,360.2 L1604.5,363.2 L1612.1,366.2 L1619.9,369.2 L1627.8,372.2 L1636.0,375.2 L1644.4,378.2 L1653.0,381.2 L1661.7,384.2 L1670.7,387.2 L1679.9,390.2 L1689.3,393.2 L1698.9,396.2 L1708.7,399.2 L1718.8,402.2 L1729.0,405.2 L1739.5,408.2 L1750.2,411.2 L1761.1,414.2 L1772.2,417.2 L1783.5,420.2 L1794.9,423.2 L1806.6,426.2 L1818.4,429.2 L1830.4,432.2 L1842.6,435.2 L1854.9,438.2 L1867.4,441.2 L1880.0,444.2 L1892.7,447.2 L1905.6,450.2 L1918.6,453.2 L1931.7,456.2 L1945.0,459.2 L1958.3,462.2 L1971.8,465.2 L1985.3,468.2 L1998.9,471.2 L2012.6,474.2 L2026.4,477.2 L2040.2,480.2 L2054.1,483.2 L2068.0,486.2 L2082.0,489.2" stroke="#800080" stroke-dasharray="19.6 7.56"/>
</g>
<g stroke="#000" stroke-width="5" fill="none">
<path d="M288.5,1390.5 V1409"/>
<path d="M593.5,1390.5 V1409"/>
<path d="M898.5,1390.5 V1409"/>
<path d="M1203.5,1390.5 V1409"/>
<path d="M1508.5,1390.5 V1409"/>
<path d="M1813.5,1390.5 V1409"/>
<path d="M2118.5,1390.5 V1409"/>
<path d="M270,100.0 H288.5" stroke-width="6"/>
<path d="M270,269.5 H288.5" stroke-width="5"/>
<path d="M270,439.5 H288.5" stroke-width="5"/>
<path d="M270,609.5 H288.5" stroke-width="5"/>
<path d="M270,778.5 H288.5" stroke-width="5"/>
<path d="M270,948.5 H288.5" stroke-width="5"/>
<path d="M270,1118.5 H288.5" stroke-width="5"/>
<path d="M270,1288.5 H288.5" stroke-width="5"/>
</g>
<rect x="288.5" y="26.5" width="1830.0" height="1364.0" fill="none" stroke="#000" stroke-width="5"/>
<g font-size="56.375px">
<text x="288.5" y="1470.2" text-anchor="middle">−60</text>
<text x="593.5" y="1470.2" text-anchor="middle">−50</text>
<text x="898.5" y="1470.2" text-anchor="middle">−40</text>
<text x="1203.5" y="1470.2" text-anchor="middle">−30</text>
<text x="1508.5" y="1470.2" text-anchor="middle">−20</text>
<text x="1813.5" y="1470.2" text-anchor="middle">−10</text>
<text x="2118.5" y="1470.2" text-anchor="middle">0</text>
<text x="252.9" y="122.2" text-anchor="end">0</text>
<text x="252.9" y="291.9" text-anchor="end">500</text>
<text x="252.9" y="461.6" text-anchor="end">1000</text>
<text x="252.9" y="631.3" text-anchor="end">1500</text>
<text x="252.9" y="801.1" text-anchor="end">2000</text>
<text x="252.9" y="970.8" text-anchor="end">2500</text>
<text x="252.9" y="1140.5" text-anchor="end">3000</text>
<text x="252.9" y="1310.2" text-anchor="end">3500</text>
</g>
<text x="1203.5" y="1552.5" font-size="66.625px" text-anchor="middle">Ice temperature (°C)</text>
<text transform="translate(75.3,708.5) rotate(-90)" font-size="66.625px" text-anchor="middle">Depth (m)</text>
<g>
<path d="M321.5,899.0 L745.5,899.0 Q753.0,899.0 753.0,906.5 L753.0,1357.5 Q753.0,1365.0 745.5,1365.0 L321.5,1365.0 Q314.0,1365.0 314.0,1357.5 L314.0,906.5 Q314.0,899.0 321.5,899.0 Z" fill="#fff" stroke="#cccccc" stroke-width="6" stroke-linejoin="miter"/>
<path d="M331,940.0 H440" stroke="#ff0000" stroke-width="6" fill="none"/>
<text x="478.8" y="958.0" font-size="51.25px">DomeC</text>
<path d="M331,1015.2 H440" stroke="#0000ff" stroke-width="6" fill="none"/>
<text x="478.8" y="1033.2" font-size="51.25px">Vostok</text>
<path d="M331,1090.4 H440" stroke="#008000" stroke-width="6" fill="none"/>
<text x="478.8" y="1108.4" font-size="51.25px">DomeFuji</text>
<path d="M331,1165.6 H440" stroke="#000000" stroke-width="6" fill="none"/>
<text x="478.8" y="1183.6" font-size="51.25px">EDML</text>
<path d="M331,1240.8 H440" stroke="#ffa500" stroke-width="6" fill="none"/>
<text x="478.8" y="1258.8" font-size="51.25px">Byrd</text>
<path d="M331,1316.0 H440" stroke="#800080" stroke-width="6" fill="none"/>
<text x="478.8" y="1334.0" font-size="51.25px">LawDome</text>
</g>
</svg></body></html>
